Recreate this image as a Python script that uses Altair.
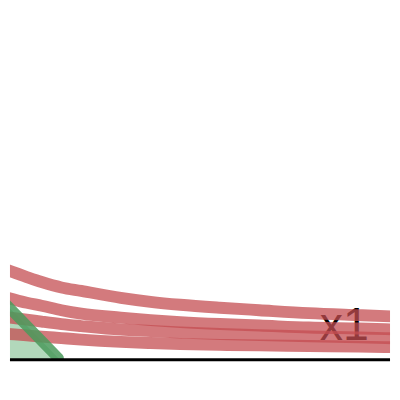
import altair as alt
import pandas as pd

# x positions (same units for all curves)
xs = [0, 25, 40, 60, 80, 120, 150, 180, 220, 260, 310, 360, 400]
curve1 = [92.5, 83.5, 78.5, 73.0, 69.5, 62.5, 58.5, 55.5, 52.5, 50.0, 47.0, 45.0, 43.5]
curve2 = [64.0, 57.5, 54.5, 50.0, 46.5, 42.5, 40.0, 38.0, 36.0, 34.5, 32.5, 31.5, 30.5]
curve3 = [43.5, 40.5, 38.5, 36.0, 34.0, 30.5, 29.0, 27.5, 26.0, 24.8, 23.5, 22.5, 21.5]
curve4 = [26.5, 24.5, 23.3, 21.8, 20.3, 18.0, 16.8, 15.8, 15.0, 14.4, 13.8, 13.2, 12.5]

green_x = [0, 57]
green_y = [60.0, 1.5]

label_text = ["x1"]
label_x = [321]
label_y = [19.5]

rows = []
for name, ys in [("c1", curve1), ("c2", curve2), ("c3", curve3), ("c4", curve4)]:
    for x, y in zip(xs, ys):
        rows.append({"series": name, "x": x, "y": y})
df_red = pd.DataFrame(rows)
df_green = pd.DataFrame({"x": green_x, "y": green_y})
df_label = pd.DataFrame({"text": label_text, "x": label_x, "y": label_y})
df_base = pd.DataFrame({"y": [0]})

xscale = alt.Scale(domain=[8, 392], nice=False, zero=False)
yscale = alt.Scale(domain=[-0.5, 353.5], nice=False, zero=False)

area = alt.Chart(df_green).mark_area(color="#55a868", opacity=0.45, clip=True).encode(
    x=alt.X("x:Q", scale=xscale, axis=None),
    y=alt.Y("y:Q", scale=yscale, axis=None),
    y2=alt.datum(0),
)

text = alt.Chart(df_label).mark_text(
    font="Liberation Sans", fontSize=47, color="black", align="left", baseline="alphabetic"
).encode(
    x=alt.X("x:Q", scale=xscale, axis=None),
    y=alt.Y("y:Q", scale=yscale, axis=None),
    text="text:N",
)

red = alt.Chart(df_red).mark_line(
    color="#c44e52", opacity=0.75, strokeWidth=12, interpolate="monotone", clip=True
).encode(
    x=alt.X("x:Q", scale=xscale, axis=None),
    y=alt.Y("y:Q", scale=yscale, axis=None),
    detail="series:N",
)

green = alt.Chart(df_green).mark_line(
    color="#4a9a5c", opacity=0.85, strokeWidth=11, strokeCap="round", clip=True
).encode(
    x=alt.X("x:Q", scale=xscale, axis=None),
    y=alt.Y("y:Q", scale=yscale, axis=None),
)

base = alt.Chart(df_base).mark_rule(color="black", strokeWidth=3).encode(
    y=alt.Y("y:Q", scale=yscale, axis=None),
)

chart = alt.layer(area, text, red, green, base).properties(
    width=384, height=354, padding=0, background="white"
).configure_view(stroke=None)

chart.save("out.html", embed_options={"renderer": "svg", "actions": False})
